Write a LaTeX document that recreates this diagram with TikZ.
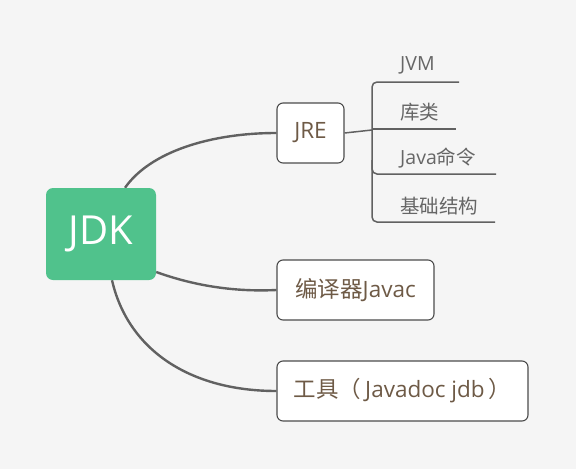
\documentclass[tikz,border=0pt]{standalone}
\usepackage{fontspec}
\usetikzlibrary{backgrounds}
\setmainfont{Open Sans}
\newfontfamily\cjk{Noto Sans CJK SC}
\begin{document}
\begin{tikzpicture}[x=1pt,y=-1pt,
  box/.style={draw=black!70,line width=1.1pt,fill=white,rounded corners=6pt,inner sep=0pt,text=textbrown,font=\fontsize{22.5}{26}\selectfont},
  child/.style={anchor=west,inner sep=0pt,text=black!60,font=\fontsize{19.5}{23}\selectfont},
  conn/.style={draw=black!62,line width=2.4pt},
  brk/.style={draw=black!62,line width=1.5pt}]
\definecolor{textbrown}{RGB}{110,90,70}
\definecolor{jdkgreen}{RGB}{80,194,140}
\definecolor{bg}{RGB}{245,245,245}
\node[box,minimum width=67pt,minimum height=60pt] (jre) at (310.5,133) {JRE};
\node[box,minimum width=157pt,minimum height=60pt] (javac) at (355.5,290) {{\cjk 编译器}Javac};
\node[box,minimum width=251pt,minimum height=60pt] (tools) at (402.5,391) {{\cjk 工具（}\,Javadoc jdb\,{\cjk ）}};
\node[fill=jdkgreen,rounded corners=7pt,minimum width=110pt,minimum height=92pt,inner sep=0pt,text=white,font=\fontsize{40}{44}\selectfont] (jdk) at (101,234) {JDK};
\begin{scope}[on background layer]
\fill[bg] (0,0) rectangle (576,469);
\draw[conn] (jdk.north) ++(24,0) coordinate (s1) .. controls (150,152) and (210,133) .. (jre.west);
\draw[conn] (jdk.east) ++(0,38) coordinate (s2) .. controls (195,286) and (235,292) .. (javac.west);
\draw[conn] (jdk.south) ++(11,0) coordinate (s3) .. controls (128,350) and (190,391) .. (tools.west);
\end{scope}
\useasboundingbox (0,0) rectangle (576,469);
% children
\coordinate (bj) at (372,130);
\coordinate (c1s) at (372,82);  \coordinate (c1e) at (459,82);
\coordinate (c2s) at (372,129); \coordinate (c2e) at (456,129);
\coordinate (c3s) at (372,174); \coordinate (c3e) at (496,174);
\coordinate (c4s) at (372,222); \coordinate (c4e) at (495,222);
\node[child] (jvm) at (400,65) {JVM};
\node[child] (lib) at (400,112) {\cjk 库类};
\node[child] (cmd) at (400,158) {Java{\cjk 命令}};
\node[child] (base) at (400,206) {\cjk 基础结构};
\draw[brk] (jre.east) -- (bj);
\draw[brk,rounded corners=5pt] (c1e) -- (c1s) -- (c4s) -- (c4e);
\draw[brk] (c2s) -- (c2e);
\draw[brk,rounded corners=5pt] (372,160) -- (c3s) -- (c3e);
\end{tikzpicture}
\end{document}
